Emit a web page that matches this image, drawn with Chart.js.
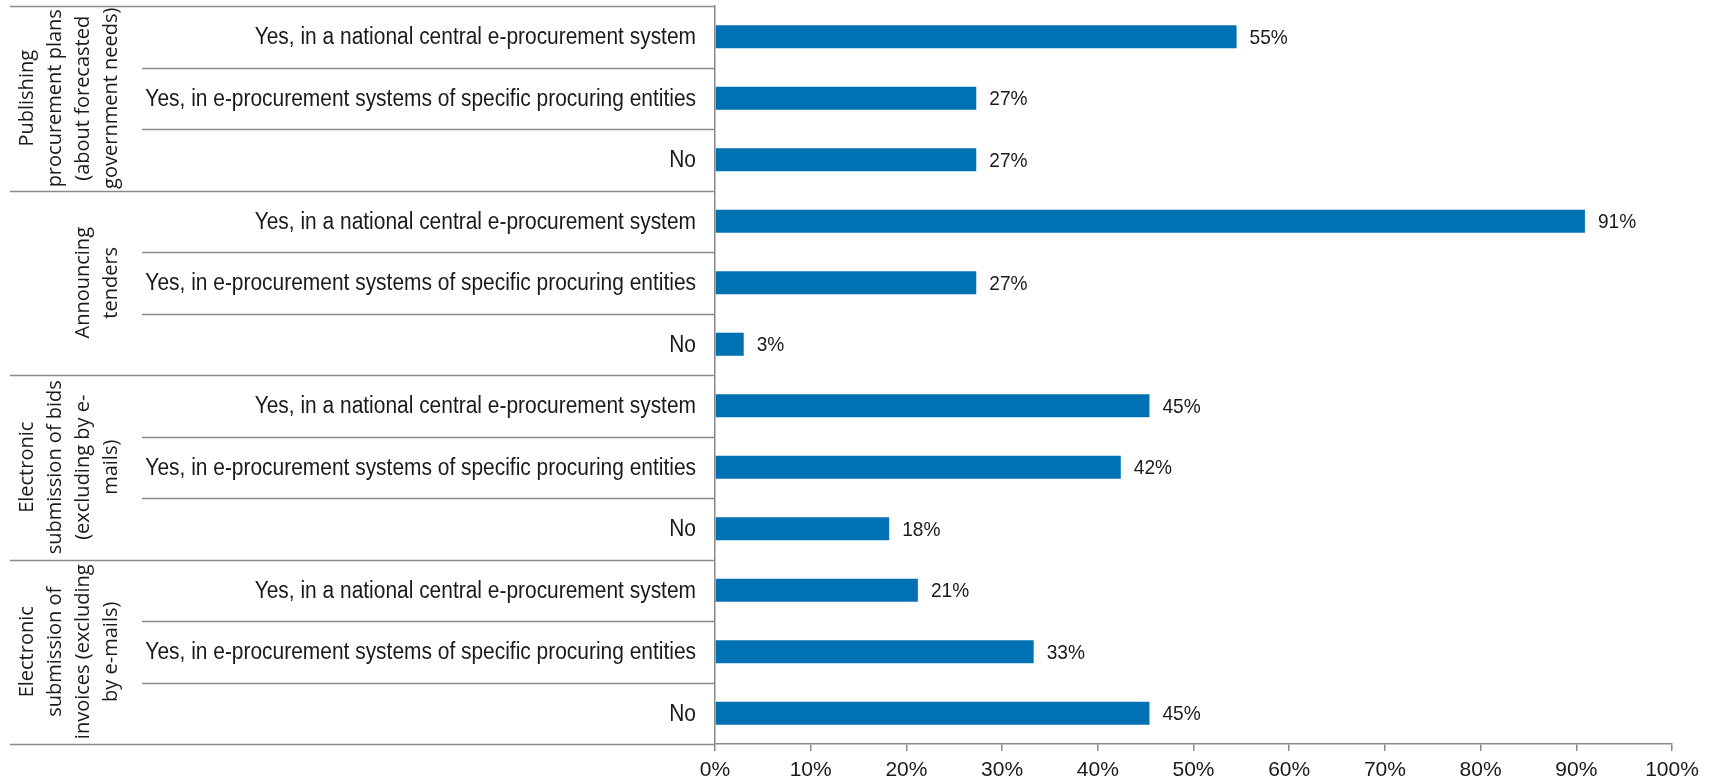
<!DOCTYPE html>
<html>
<head>
<meta charset="utf-8">
<script src="https://cdn.jsdelivr.net/npm/chart.js@4.4.1/dist/chart.umd.min.js"></script>
<style>
  body { margin: 0; background: #fff; }
  .wrap { width: 1717px; height: 783px; position: relative; }
</style>
</head>
<body>
<div class="wrap"><canvas id="chart"></canvas></div>
<script>
// DATA
const group_labels = [
  ["Publishing", "procurement plans", "(about forecasted", "government needs)"],
  ["Announcing", "tenders"],
  ["Electronic", "submission of bids", "(excluding by e-", "mails)"],
  ["Electronic", "submission of", "invoices (excluding", "by e-mails)"]
];
const option_labels = [
  "Yes, in a national central e-procurement system",
  "Yes, in e-procurement systems of specific procuring entities",
  "No"
];
// share of countries, in percent, one per row (group by group)
const shares = [54.5, 27.3, 27.3, 90.9, 27.3, 3.0, 45.4, 42.4, 18.2, 21.2, 33.3, 45.4];
const x_ticks = [0, 10, 20, 30, 40, 50, 60, 70, 80, 90, 100];

const row_labels = [];
group_labels.forEach(() => {
  option_labels.forEach((o) => row_labels.push(o));
});

const bar_color = "#0071B3";
const line_color = "#8a8a8a";
const text_color = "#1a1a1a";
const label_font = "'Liberation Sans', Arial, sans-serif";
const narrow = 0.91; // squeeze text to look like the condensed original

// separators, row labels, rotated group titles, value labels
const side_plugin = {
  id: "side",
  afterDraw(chart) {
    const ctx = chart.ctx;
    const area = chart.chartArea;
    const y = chart.scales.y;
    const row_h = y.getPixelForValue(1) - y.getPixelForValue(0);
    ctx.save();
    ctx.strokeStyle = line_color;
    ctx.lineWidth = 1.5;
    for (let i = 0; i <= row_labels.length; i++) {
      const py = Math.round(y.getPixelForValue(i) - row_h / 2) + 0.5;
      const x0 = i % 3 === 0 ? 10 : 142;
      ctx.beginPath();
      ctx.moveTo(x0, py);
      ctx.lineTo(area.left, py);
      ctx.stroke();
    }

    ctx.fillStyle = text_color;
    ctx.textBaseline = "middle";

    // row labels
    ctx.font = "23px " + label_font;
    ctx.textAlign = "right";
    row_labels.forEach((txt, i) => {
      ctx.save();
      ctx.translate(area.left - 19, y.getPixelForValue(i) + 1);
      ctx.scale(narrow, 1);
      ctx.fillText(txt, 0, 0);
      ctx.restore();
    });

    // group titles
    ctx.font = "20px 'Open Sans', sans-serif";
    ctx.textAlign = "center";
    group_labels.forEach((lines, g) => {
      const cy = (y.getPixelForValue(g * 3) + y.getPixelForValue(g * 3 + 2)) / 2;
      lines.forEach((txt, i) => {
        const cx = 111 - (lines.length - 1 - i) * 28;
        ctx.save();
        ctx.translate(cx, cy);
        ctx.rotate(-Math.PI / 2);
        ctx.fillText(txt, 0, 0);
        ctx.restore();
      });
    });

    // value labels
    ctx.font = "21px " + label_font;
    ctx.textAlign = "left";
    const meta = chart.getDatasetMeta(0);
    meta.data.forEach((bar, i) => {
      ctx.save();
      ctx.translate(bar.x + 13, bar.y + 1);
      ctx.scale(narrow, 1);
      ctx.fillText(Math.round(shares[i]) + "%", 0, 0);
      ctx.restore();
    });
    ctx.restore();
  }
};

new Chart(document.getElementById("chart"), {
  type: "bar",
  data: {
    labels: row_labels,
    datasets: [
      {
        data: shares,
        backgroundColor: bar_color,
        borderWidth: 0,
        barPercentage: 0.75,
        categoryPercentage: 0.5
      }
    ]
  },
  options: {
    indexAxis: "y",
    responsive: true,
    maintainAspectRatio: false,
    animation: false,
    layout: { padding: { top: 6, right: 45, left: 0, bottom: 0 } },
    plugins: {
      legend: { display: false },
      tooltip: { enabled: false }
    },
    scales: {
      x: {
        min: 0,
        max: 100,
        afterBuildTicks: (scale) => {
          scale.ticks = x_ticks.map((v) => ({ value: v }));
        },
        afterFit: (scale) => { scale.height = 39; },
        border: { display: true, color: line_color, width: 1.5 },
        grid: { drawOnChartArea: false, drawTicks: true, tickLength: 7, color: line_color, lineWidth: 1.5 },
        ticks: {
          padding: 7,
          color: text_color,
          font: { family: label_font, size: 21 },
          callback: (v) => v + "%"
        }
      },
      y: {
        afterFit: (scale) => { scale.width = 715; },
        border: { display: true, color: line_color, width: 1.5 },
        grid: { display: false, drawTicks: false },
        ticks: { display: false }
      }
    }
  },
  plugins: [side_plugin]
});
</script>
</body>
</html>
